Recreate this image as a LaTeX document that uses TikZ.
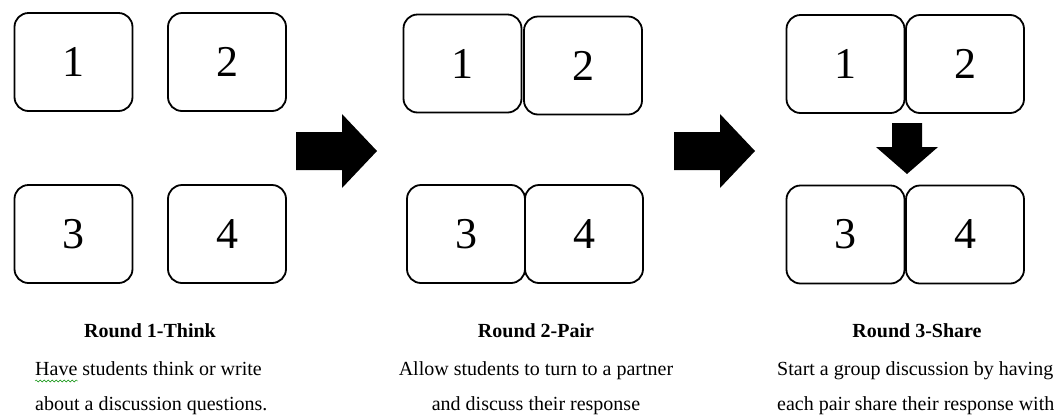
\documentclass[tikz,border=0pt]{standalone}
\usepackage{fontspec}
\setmainfont{Liberation Serif}
\usetikzlibrary{decorations.pathmorphing}

\tikzstyle{card} = [rectangle, draw, line width=1.8pt, rounded corners=14pt, minimum width=118pt, minimum height=98pt, inner sep=0pt, font=\fontsize{44}{48}\selectfont]
\tikzstyle{title} = [anchor=base, inner sep=0pt, font=\fontsize{20}{24}\selectfont\bfseries]
\tikzstyle{info} = [anchor=base west, inner sep=0pt, font=\fontsize{20}{24}\selectfont]

\begin{document}
\begin{tikzpicture}[x=1pt, y=-1pt]
\useasboundingbox (0,0) rectangle (1061,416);
% round 1
\node [card] (t1) at (73.5,62) {1};
\node [card, right of=t1, node distance=153.5pt] (t2) {2};
\node [card] (t3) at (73.5,234) {3};
\node [card, right of=t3, node distance=153.5pt] (t4) {4};
% round 2
\node [card] (p1) at (462.5,63.5) {1};
\node [card] (p2) at (583,65.5) {2};
\node [card] (p3) at (466,234) {3};
\node [card, right of=p3, node distance=118pt] (p4) {4};
% round 3
\node [card] (s1) at (845.5,64) {1};
\node [card, right of=s1, node distance=119.5pt] (s2) {2};
\node [card] (s3) at (845.5,234.5) {3};
\node [card, right of=s3, node distance=119.5pt] (s4) {4};
% block arrows
\coordinate (go1) at (336.5,151);
\coordinate (go2) at (714.5,151);
\coordinate (down) at (907,148.5);
\foreach \c in {go1,go2}
  \fill (\c) ++(-40.5,-19) -- ++(46,0) -- ++(0,-18) -- ++(35,37) -- ++(-35,37) -- ++(0,-18) -- ++(-46,0) -- cycle;
\fill (down) ++(-15,-25.5) -- ++(30,0) -- ++(0,24) -- ++(16,0) -- ++(-31,27) -- ++(-31,-27) -- ++(16,0) -- cycle;
% captions
\node [title] (h1) at (150,337) {Round 1-Think};
\node [info] (l1a) at (35,375) {Have students think or write};
\node [info] (l1b) at (35,410) {about a discussion questions.};
\draw [green!55!black, decorate, decoration={snake, amplitude=1pt, segment length=4pt}] (35,381) -- (78,381);
\node [title] (h2) at (536,337) {Round 2-Pair};
\node [info, anchor=base] (l2a) at (536,375) {Allow students to turn to a partner};
\node [info, anchor=base] (l2b) at (536,410) {and discuss their response};
\node [title] (h3) at (917,337) {Round 3-Share};
\node [info] (l3a) at (777,375) {Start a group discussion by having};
\node [info] (l3b) at (777,410) {each pair share their response with};
\end{tikzpicture}
\end{document}
